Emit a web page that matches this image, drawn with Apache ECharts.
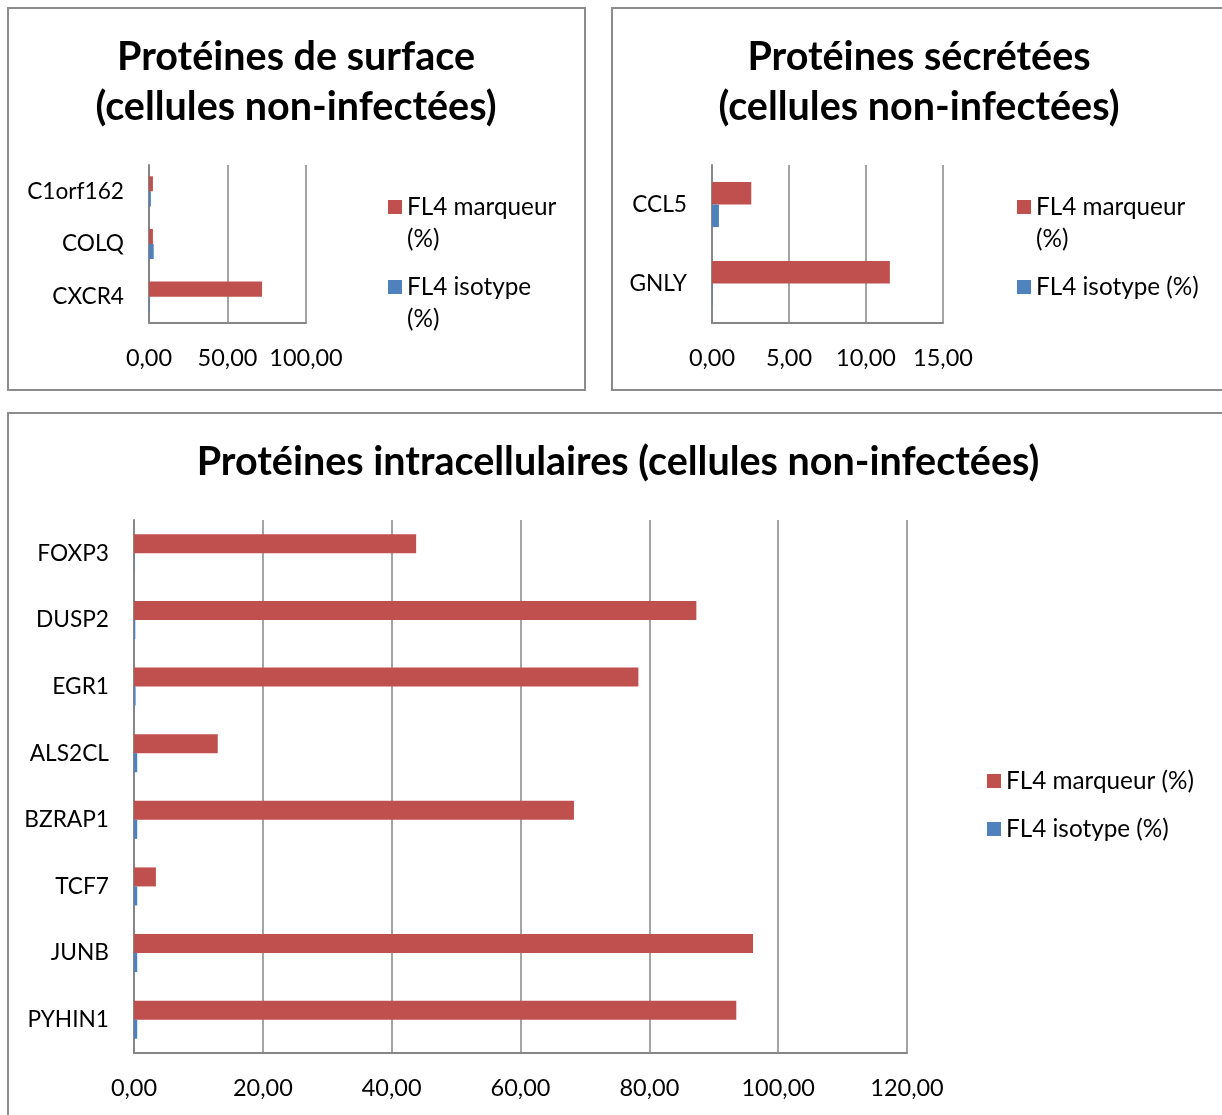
<!DOCTYPE html>
<html>
<head>
<meta charset="utf-8">
<script src="https://cdn.jsdelivr.net/npm/echarts@6/dist/echarts.min.js"></script>
<style>
html,body{margin:0;padding:0;background:#fff;}
#c{width:1222px;height:1115px;}
</style>
</head>
<body>
<div id="c"></div>
<script>
// ---- Data ----
const surfaceCats = ['C1orf162', 'COLQ', 'CXCR4'];
const surfaceMarqueur = [2.5, 2.5, 72];
const surfaceIsotype = [1.2, 3, 0.5];

const secretCats = ['CCL5', 'GNLY'];
const secretMarqueur = [2.55, 11.55];
const secretIsotype = [0.45, 0.03];

const intraCats = ['FOXP3', 'DUSP2', 'EGR1', 'ALS2CL', 'BZRAP1', 'TCF7', 'JUNB', 'PYHIN1'];
const intraMarqueur = [43.8, 87.3, 78.3, 13.0, 68.3, 3.4, 96.1, 93.5];
const intraIsotype = [0.05, 0.2, 0.25, 0.5, 0.5, 0.5, 0.5, 0.5];

const titles = ['Protéines de surface\n(cellules non-infectées)', 'Protéines sécrétées\n(cellules non-infectées)', 'Protéines intracellulaires (cellules non-infectées)'];
const nameMarqueur = 'FL4 marqueur (%)';
const nameIsotype = 'FL4 isotype (%)';

// ---- Styling ----
const RED = '#C0504D', BLUE = '#4F81BD', GRID = '#868686';
const FONT = 'Lato';
const fmt = v => v.toFixed(2).replace('.', ',');

function xAxis(gi, max, interval) {
  return {
    type: 'value', gridIndex: gi, min: 0, max: max, interval: interval,
    axisLine: {show: true, lineStyle: {color: GRID, width: 2}},
    axisTick: {show: false},
    splitLine: {show: true, lineStyle: {color: GRID, width: 1.5}},
    axisLabel: {color: '#000', fontFamily: FONT, fontSize: 23.5, margin: 23, formatter: fmt}
  };
}
function yAxis(gi, cats) {
  return {
    type: 'category', gridIndex: gi, data: cats, inverse: true,
    axisLine: {show: true, lineStyle: {color: GRID, width: 2}},
    axisTick: {show: false},
    splitLine: {show: false},
    axisLabel: {color: '#000', fontFamily: FONT, fontSize: 22.7, margin: 25}
  };
}
function bar(name, gi, data, color) {
  return {
    type: 'bar', name: name, xAxisIndex: gi, yAxisIndex: gi, data: data,
    barWidth: '28.57%', barGap: '0%',
    itemStyle: {color: color},
    animation: false
  };
}
function title(text, cx, top) {
  return {
    text: text, left: cx, top: top, textAlign: 'center', padding: 0,
    textStyle: {fontFamily: FONT, fontWeight: 'bold', fontSize: 39.5, lineHeight: 50, color: '#000'}
  };
}
function legend(names, left, top, label) {
  return {
    data: names, left: left, top: top, orient: 'vertical', padding: 0,
    itemWidth: 14, itemHeight: 14, itemGap: 16, selectedMode: false,
    icon: 'rect',
    formatter: () => label,
    textStyle: {fontFamily: FONT, fontSize: 24.3, lineHeight: 32, color: '#000'}
  };
}

const chart = echarts.init(document.getElementById('c'), null, {renderer: 'canvas'});
chart.setOption({
  backgroundColor: '#fff',
  animation: false,
  title: [title(titles[0], 296, 32), title(titles[1], 919, 32), title(titles[2], 618, 437)],
  graphic: [
    {type: 'rect', shape: {x: 8, y: 8, width: 577, height: 382}, style: {fill: 'none', stroke: '#8c8c8c', lineWidth: 2}, silent: true},
    {type: 'rect', shape: {x: 612, y: 8, width: 620, height: 382}, style: {fill: 'none', stroke: '#8c8c8c', lineWidth: 2}, silent: true},
    {type: 'rect', shape: {x: 8, y: 413, width: 1230, height: 720}, style: {fill: 'none', stroke: '#8c8c8c', lineWidth: 2}, silent: true}
  ],
  legend: [
    legend([nameMarqueur], 388, 159, '\u00a0\nFL4 marqueur\n(%)'),
    legend([nameIsotype], 388, 239, '\u00a0\nFL4 isotype\n(%)'),
    legend([nameMarqueur], 1017, 159, '\u00a0\nFL4 marqueur\n(%)'),
    legend([nameIsotype], 1017, 271, 'FL4 isotype (%)'),
    Object.assign(legend([nameMarqueur, nameIsotype], 987, 765, ''), {formatter: n => n})
  ],
  grid: [
    {left: 149, top: 165, width: 157, height: 158},
    {left: 712, top: 165, width: 231, height: 158},
    {left: 134, top: 520, width: 773, height: 533}
  ],
  xAxis: [xAxis(0, 100, 50), xAxis(1, 15, 5), xAxis(2, 120, 20)],
  yAxis: [yAxis(0, surfaceCats), yAxis(1, secretCats), yAxis(2, intraCats)],
  series: [
    bar(nameMarqueur, 0, surfaceMarqueur, RED),
    bar(nameIsotype, 0, surfaceIsotype, BLUE),
    bar(nameMarqueur, 1, secretMarqueur, RED),
    bar(nameIsotype, 1, secretIsotype, BLUE),
    bar(nameMarqueur, 2, intraMarqueur, RED),
    bar(nameIsotype, 2, intraIsotype, BLUE)
  ]
});
</script>
</body>
</html>
